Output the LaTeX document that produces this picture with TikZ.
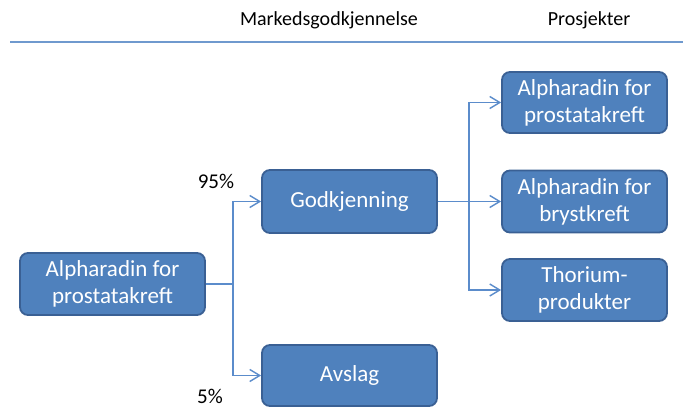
\documentclass[tikz,border=0pt]{standalone}
\usepackage{fontspec}
\setmainfont{Carlito}
\usetikzlibrary{arrows.meta}
\definecolor{boxfill}{HTML}{4F81BD}
\definecolor{boxedge}{HTML}{3A6094}
\definecolor{linec}{HTML}{5B8CCB}
\definecolor{headc}{HTML}{6F99CE}
\tikzset{
  box/.style={draw=boxedge, line width=1.8pt, fill=boxfill, rounded corners=8pt,
    text=white, align=center, inner sep=0pt,
    font=\fontsize{23}{27}\selectfont},
  conn/.style={draw=linec, line width=1.4pt},
  arr/.style={conn, -{Straight Barb[length=10pt,width=12pt,line width=1.4pt]}},
  lbl/.style={font=\fontsize{20}{24}\selectfont, inner sep=0pt}
}
\begin{document}
\begin{tikzpicture}[x=1pt,y=-1pt]
\useasboundingbox (0,0) rectangle (683,407);
\node[lbl] (h1) at (329,20) {Markedsgodkjennelse};
\node[lbl] (h2) at (589,20) {Prosjekter};
\coordinate (hl1) at (10,42);
\coordinate (hl2) at (683,42);
\draw[draw=headc, line width=2pt] (hl1) -- (hl2);

\node[box, minimum width=185pt, minimum height=62pt] (L) at (112.5,284) {Alpharadin for\\prostatakreft};
\node[box, minimum width=175pt, minimum height=63pt] (G) at (349.5,201.5) {Godkjenning};
\node[box, minimum width=175pt, minimum height=61pt] (A) at (349.5,375.5) {Avslag};
\node[box, minimum width=165pt, minimum height=61pt] (R1) at (584.5,102.5) {Alpharadin for\\prostatakreft};
\node[box, minimum width=165pt, minimum height=62pt] (R2) at (584.5,201.5) {Alpharadin for\\brystkreft};
\node[box, minimum width=165pt, minimum height=62pt] (R3) at (584.5,290) {Thorium-\\produkter};

\node[lbl, font=\fontsize{21}{24}\selectfont] (p95) at (216,181) {95\%};
\node[lbl, font=\fontsize{21}{24}\selectfont] (p5) at (210,396) {5\%};

\coordinate (s1) at (233,284);
\draw[conn] (L.east) -- (s1);
\draw[arr] (s1) |- (G.west);
\draw[arr] (s1) |- (A.west);

\coordinate (s2) at (469,201.5);
\draw[arr] (G.east) -- (R2.west);
\draw[arr] (s2) |- (R1.west);
\draw[arr] (s2) |- (R3.west);
\end{tikzpicture}
\end{document}
